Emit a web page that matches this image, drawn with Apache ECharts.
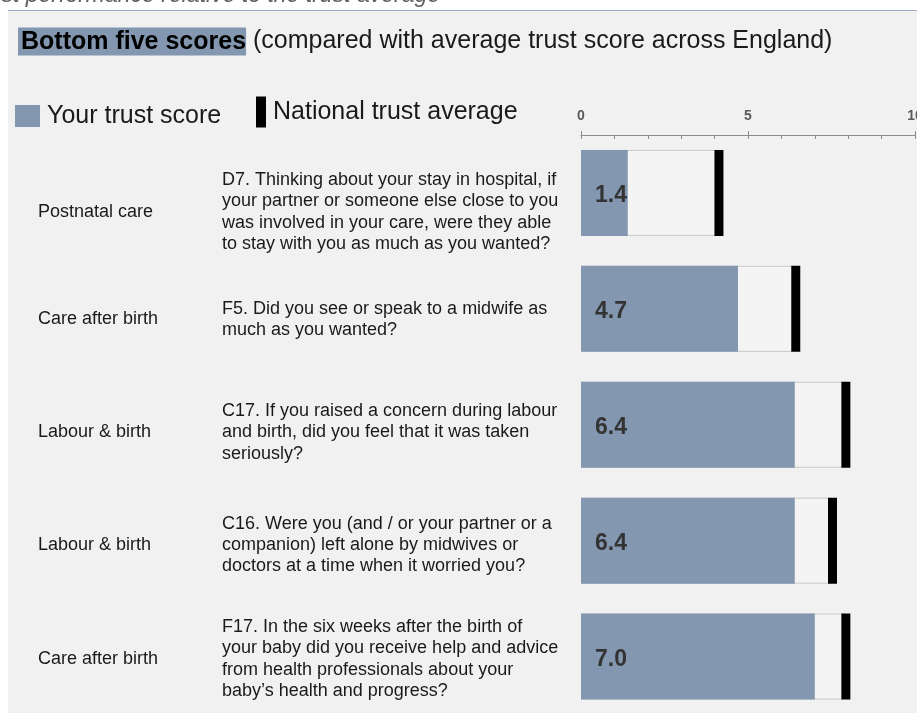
<!DOCTYPE html>
<html>
<head>
<meta charset="utf-8">
<script src="https://cdn.jsdelivr.net/npm/echarts@6/dist/echarts.min.js"></script>
<style>
  html, body { margin: 0; padding: 0; background: #ffffff; }
  #chart { width: 917px; height: 713px; }
</style>
</head>
<body>
<div id="chart"></div>
<script>
// ---- data ----
const sections = ['Postnatal care', 'Care after birth', 'Labour & birth', 'Labour & birth', 'Care after birth'];
const questions = [
  'D7. Thinking about your stay in hospital, if\nyour partner or someone else close to you\nwas involved in your care, were they able\nto stay with you as much as you wanted?',
  'F5. Did you see or speak to a midwife as\nmuch as you wanted?',
  'C17. If you raised a concern during labour\nand birth, did you feel that it was taken\nseriously?',
  'C16. Were you (and / or your partner or a\ncompanion) left alone by midwives or\ndoctors at a time when it worried you?',
  'F17. In the six weeks after the birth of\nyour baby did you receive help and advice\nfrom health professionals about your\nbaby\u2019s health and progress?'
];
const trustScores = [1.4, 4.7, 6.4, 6.4, 7.0];
const nationalAverages = [4.1, 6.4, 7.9, 7.5, 7.9];
const axisTicks = [0, 5, 10];

// ---- layout (not data) ----
const rowTextNudge = [19, 10.5, 7.5, 4.5, 2.5];
const FONT = '"Liberation Sans", Arial, sans-serif';
const BLUE = '#8497b0';
const GRID_LEFT = 581;
const SECTION_X = 38, SECTION_W = 170;
const QUESTION_X = 222, QUESTION_W = 345;
const LINE_H = 21.3;

const chart = echarts.init(document.getElementById('chart'), null, { renderer: 'canvas' });

const catIdx = sections.map((_, i) => i);

function richFor(width) {
  const rich = {};
  rowTextNudge.forEach((n, i) => {
    rich['s' + i] = { fontSize: 1, lineHeight: Math.max(1, n * 2), width: width, align: 'left' };
  });
  rich.t = { fontSize: 18, fontFamily: FONT, color: '#1a1a1a', lineHeight: LINE_H, width: width, align: 'left' };
  return rich;
}
function fmt(value, index) {
  const lines = String(value).split('\n').map(l => '{t|' + l + '}');
  return '{s' + index + '| }\n' + lines.join('\n');
}

const option = {
  animation: false,
  graphic: [
    {
      type: 'rect', z: -100, silent: true,
      shape: { x: 8, y: 10, width: 920, height: 720 },
      style: { fill: '#f1f1f1', stroke: null }
    },
    {
      type: 'line', z: -99, silent: true,
      shape: { x1: 8, y1: 10.5, x2: 917, y2: 10.5 },
      style: { stroke: '#9aabc6', lineWidth: 1 }
    },
    {
      type: 'text', silent: true,
      x: 440, y: -4,
      style: {
        text: 'Trust performance relative to the trust average',
        font: 'italic 23px ' + FONT,
        fill: '#606060', align: 'right', verticalAlign: 'middle'
      }
    },
    {
      type: 'text', silent: true,
      x: 18, y: 41.5,
      style: {
        text: '{b|Bottom five scores} (compared with average trust score across England)',
        font: '25px ' + FONT,
        fill: '#1a1a1a', verticalAlign: 'middle',
        rich: {
          b: {
            fontWeight: 'bold', fontSize: 25, fontFamily: FONT,
            fill: '#000', backgroundColor: BLUE, padding: [2, 0, 1, 3]
          }
        }
      }
    }
  ],
  legend: [
    {
      data: [{ name: 'Your trust score', icon: 'rect' }],
      left: 15, top: 102, padding: 0,
      itemWidth: 25, itemHeight: 22, selectedMode: false,
      textStyle: { fontSize: 25, fontFamily: FONT, color: '#1a1a1a', lineHeight: 28, padding: [0, 0, 0, 2] }
    },
    {
      data: [{ name: 'National trust average', icon: 'rect' }],
      left: 256, top: 96.5, padding: 0,
      itemWidth: 10, itemHeight: 31, selectedMode: false,
      textStyle: { fontSize: 25, fontFamily: FONT, color: '#1a1a1a', lineHeight: 28, padding: [0, 0, 0, 2] }
    }
  ],
  grid: { left: GRID_LEFT, top: 135, width: 334, height: 579.5, containLabel: false, outerBoundsMode: 'none' },
  xAxis: [
    {
      type: 'value', position: 'top', min: axisTicks[0], max: axisTicks[axisTicks.length - 1], interval: 5,
      axisLine: { show: true, lineStyle: { color: '#8c8c8c', width: 1 } },
      axisTick: { show: true, length: 4, lineStyle: { color: '#8c8c8c' } },
      axisLabel: { show: true, margin: 12, fontSize: 14, fontWeight: 'bold', fontFamily: FONT, color: '#5a5a5a' },
      splitLine: { show: false }
    },
    {
      type: 'value', position: 'top', min: axisTicks[0], max: axisTicks[axisTicks.length - 1], interval: 1,
      axisLine: { show: false },
      axisTick: { show: true, inside: true, length: 4, lineStyle: { color: '#8c8c8c' } },
      axisLabel: { show: false },
      splitLine: { show: false }
    }
  ],
  yAxis: [
    {
      type: 'category', inverse: true, data: sections,
      axisLine: { show: false }, axisTick: { show: false },
      axisLabel: {
        interval: 0, margin: GRID_LEFT - SECTION_X - SECTION_W,
        formatter: fmt, rich: richFor(SECTION_W)
      }
    },
    {
      type: 'category', inverse: true, data: questions, position: 'left',
      axisLine: { show: false }, axisTick: { show: false },
      axisLabel: {
        interval: 0, margin: GRID_LEFT - QUESTION_X - QUESTION_W,
        formatter: fmt, rich: richFor(QUESTION_W)
      }
    }
  ],
  series: [
    {
      name: 'national-box', type: 'bar', xAxisIndex: 0, yAxisIndex: 0,
      data: nationalAverages, barWidth: 86, barGap: '-100%', z: 1,
      itemStyle: { color: '#f4f4f4', borderColor: '#c9c9c9', borderWidth: 1 },
      silent: true
    },
    {
      name: 'Your trust score', type: 'bar', xAxisIndex: 0, yAxisIndex: 0,
      data: trustScores, barWidth: 86, barGap: '-100%', z: 2,
      itemStyle: { color: BLUE },
      label: {
        show: true, position: 'insideLeft', distance: 14, offset: [0, 3],
        fontSize: 23, fontWeight: 'bold', fontFamily: FONT, color: '#333333',
        formatter: p => p.value.toFixed(1)
      }
    },
    {
      name: 'National trust average', type: 'scatter', xAxisIndex: 0, yAxisIndex: 0,
      data: nationalAverages.map((v, i) => [v + 0.03, catIdx[i]]),
      symbol: 'rect', symbolSize: [9, 86], z: 3,
      itemStyle: { color: '#000000', opacity: 1 }
    }
  ]
};

chart.setOption(option);
</script>
</body>
</html>
